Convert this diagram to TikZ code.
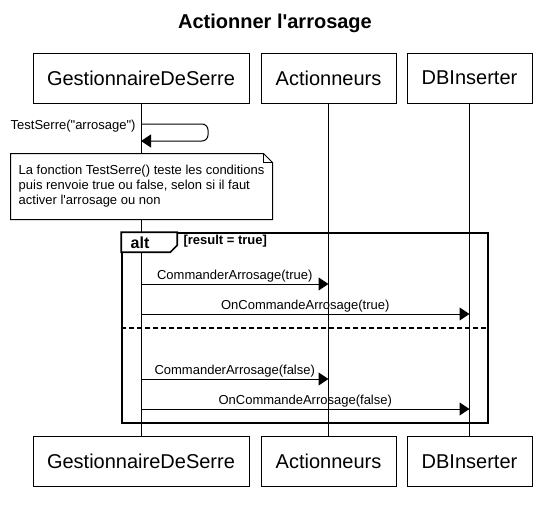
\documentclass[tikz,border=0pt]{standalone}
\usepackage{fontspec}
\setmainfont{Liberation Sans}
\usetikzlibrary{arrows.meta}

\begin{document}
\begin{tikzpicture}[
    x=1pt,
    y=-1pt,
    line width=1pt,
    participant/.style={
      draw,
      fill=white,
      minimum height=50pt,
      inner sep=0pt,
      font=\fontsize{20}{24}\selectfont
    },
    msg/.style={
      -{Triangle[length=10pt,width=13pt]}
    },
    lbl/.style={
      inner sep=1pt,
      font=\fontsize{13}{15}\selectfont
    },
    note/.style={
      fill=white,
      minimum width=261pt,
      minimum height=65pt,
      align=left,
      font=\fontsize{13}{15}\selectfont
    },
    altframe/.style={
      draw,
      line width=1.6pt,
      minimum width=366pt,
      minimum height=190pt
    }
  ]
    \useasboundingbox (0,0) rectangle (546,509);

    \node[font=\bfseries\fontsize{20}{24}\selectfont] (title) at (275,23) {Actionner l\textquotesingle arrosage};

    \foreach \n/\x/\w/\t in {gds/141/216/GestionnaireDeSerre,act/328.5/135/Actionneurs,dbi/469.5/125/DBInserter}{
      \node[participant,minimum width=\w pt] (\n t) at (\x,78) {\t};
      \node[participant,minimum width=\w pt] (\n b) at (\x,461.5) {\t};
      \draw (\n t) -- (\n b);
    }

    \draw[msg,rounded corners=6pt] (gdst |- 0,124) -- (208,124) -- (208,141) -- (gdst |- 0,141);
    \node[lbl,anchor=east] (selflbl) at (137,126) {TestSerre(\textquotedbl arrosage\textquotedbl)};

    \node[note] (nt) at (141.5,186.5) {La fonction TestSerre() teste les conditions\\puis renvoie true ou false, selon si il faut\\activer l\textquotesingle arrosage ou non};
    \draw (nt.north west) -- ([xshift=-9pt]nt.north east) -- ([yshift=-9pt]nt.north east)
      -- (nt.south east) -- (nt.south west) -- cycle;
    \draw ([xshift=-9pt]nt.north east) |- ([yshift=-9pt]nt.north east);

    \node[altframe] (alt) at (305,328) {};
    \draw[line width=1.6pt,fill=white] ([yshift=-20pt]alt.north west) -- ++(49,0) -- ++(7,-7) |- (alt.north west) -- cycle;
    \node[font=\bfseries\fontsize{16}{18}\selectfont,inner sep=0pt] (altlbl) at (140,243) {alt};
    \node[lbl,anchor=west,font=\bfseries\fontsize{13}{15}\selectfont] (guard) at (182,241) {[result = true]};
    \draw[line width=1.6pt,dash pattern=on 5pt off 3pt] (alt.west) -- (alt.east);

    \foreach \y/\to/\t in {284/act/CommanderArrosage(true),314/dbi/OnCommandeArrosage(true),379/act/CommanderArrosage(false),409/dbi/OnCommandeArrosage(false)}
      \draw[msg] (gdst |- 0,\y) -- (\to t |- 0,\y) node[lbl,midway,above] {\t};
  \end{tikzpicture}
\end{document}
